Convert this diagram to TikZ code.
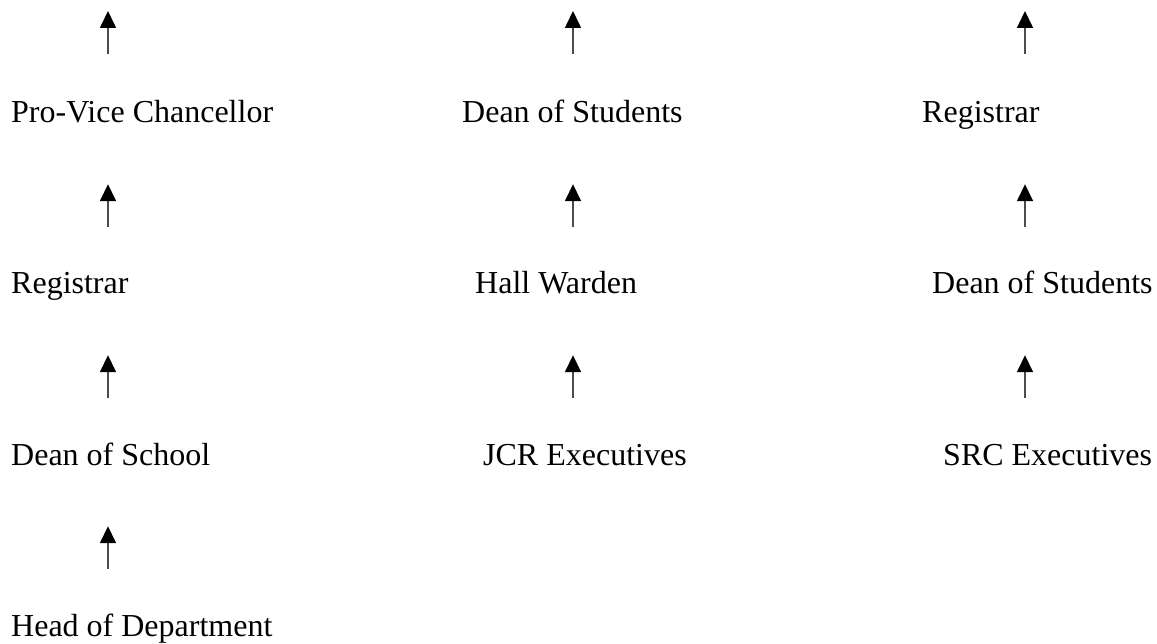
\documentclass[tikz,border=0pt]{standalone}
\usepackage{fontspec}
\setmainfont{Liberation Serif}
\usetikzlibrary{arrows.meta}
\colorlet{shaft}{black!70}

\begin{document}
\begin{tikzpicture}
    [x=1pt,y=-1pt,
      post/.style={anchor=base west,font=\fontsize{32}{38}\selectfont,inner sep=0pt,text height=22pt,text depth=7pt},
      report/.style={-{Triangle[width=16pt,length=17pt,color=black]},line width=1.6pt,draw=shaft,shorten <=45pt,shorten >=54pt}]

    \useasboundingbox (0,0) rectangle (1157,644);

    % free ends of the top arrows, one per column
    \coordinate (t1) at (108,11);
    \coordinate (t2) at (573,11);
    \coordinate (t3) at (1025,11);

    % academic line
    \node[post] (pvc) at (11,123) {Pro-Vice Chancellor};
    \node[post] (reg1) at (11,294) {Registrar};
    \node[post] (dos1) at (11,465) {Dean of School};
    \node[post] (hod) at (11,636) {Head of Department};

    % hall line
    \node[post] (dean2) at (462,123) {Dean of Students};
    \node[post] (hall) at (475,294) {Hall Warden};
    \node[post] (jcr) at (483,465) {JCR Executives};

    % union line
    \node[post] (reg3) at (922,123) {Registrar};
    \node[post] (dean3) at (932,294) {Dean of Students};
    \node[post] (src) at (943,465) {SRC Executives};

    \foreach \lo/\hi/\c in {reg1/pvc/t1,dos1/reg1/t1,hod/dos1/t1,
                            hall/dean2/t2,jcr/hall/t2,
                            dean3/reg3/t3,src/dean3/t3}
      \draw[report] (\lo.north -| \c) -- (\hi.south -| \c);
    \foreach \n/\c in {pvc/t1,dean2/t2,reg3/t3}
      \draw[report,shorten <=47pt,shorten >=0pt] (\n.north -| \c) -- (\c);

\end{tikzpicture}
\end{document}
